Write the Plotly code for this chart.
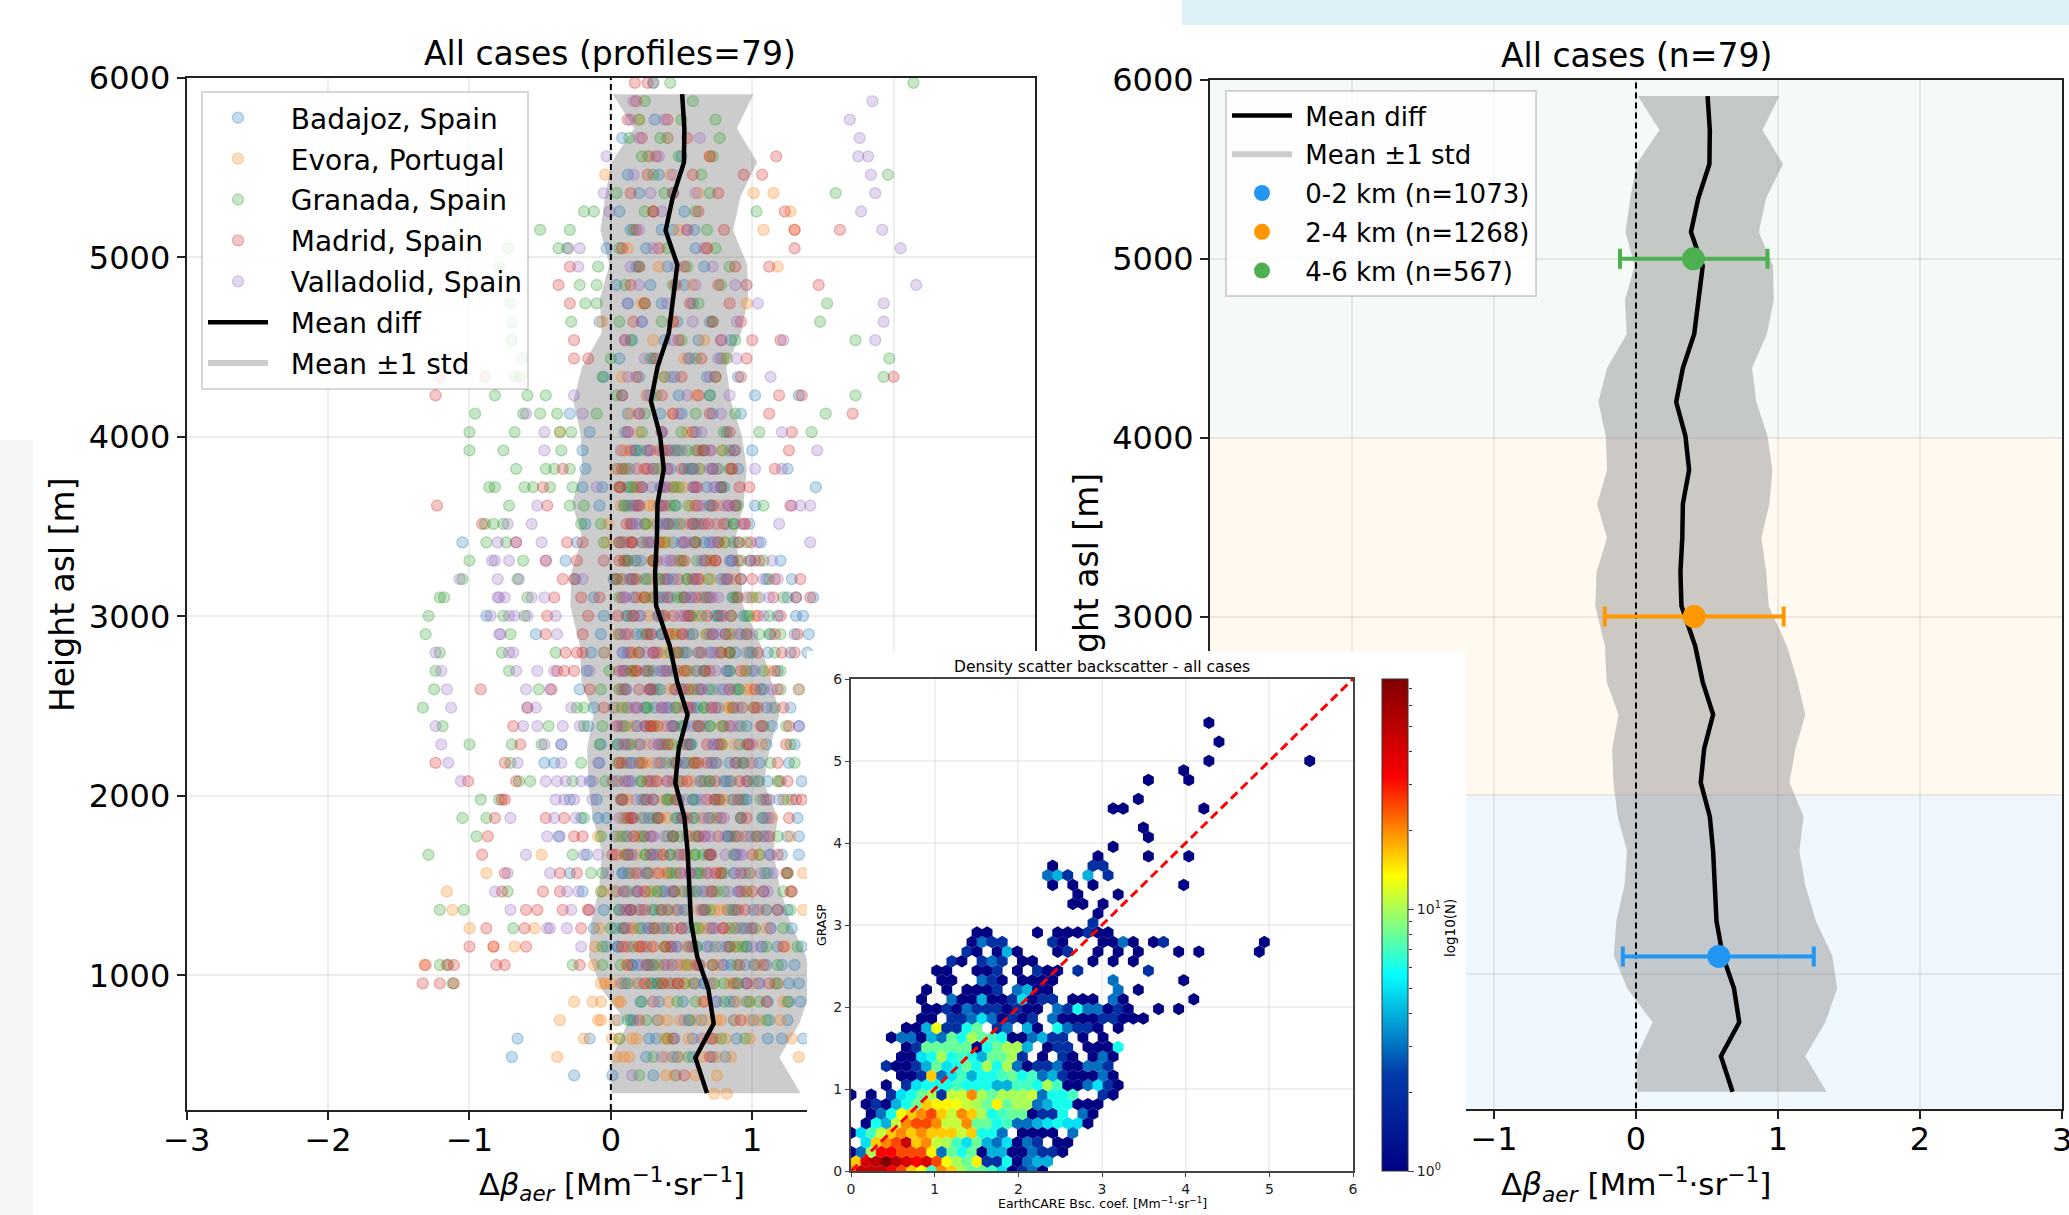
import math
import plotly.graph_objects as go

W, H = 2069, 1215

heights = [5910,5720,5530,5340,5150,4960,4770,4580,4390,4200,4010,3820,3630,3440,3250,3060,2835,2634,2452,2262,2072,1882,1690,1499,1298,1107,922,732,542,344]
mean_diff = [.504,.52,.517,.439,.387,.47,.44,.41,.33,.283,.348,.374,.33,.326,.313,.32,.417,.47,.543,.48,.456,.52,.543,.558,.567,.61,.69,.727,.598,.68]
std_lower = [.013,.165,.004,-.04,-.074,-.01,-.078,-.065,-.204,-.265,-.213,-.204,-.274,-.204,-.278,-.287,-.219,-.207,-.123,-.168,-.159,-.129,-.063,-.081,-.138,-.156,-.063,.117,.006,.006]
std_upper = [1.009,.891,1.035,.917,.865,.965,.97,.922,.817,.848,.926,.961,.939,.883,.917,.935,1.063,1.138,1.192,1.123,1.081,1.18,1.15,1.192,1.267,1.381,1.417,1.333,1.192,1.342]

row_bottom, row_step = 341, 102.4

stations = ["Badajoz, Spain","Evora, Portugal","Granada, Spain","Madrid, Spain","Valladolid, Spain"]
station_colors = ["31,119,180","255,127,14","44,160,44","214,39,40","148,103,189"]

# x offsets in hundredths, one list per height row, bottom row first
badajoz = [[],[-26,1,46,30],[-70,25,47,44,72,81,58],[-66,-15,27,32,45,58,89,111,121,136,70],[5,14,16,33,56,64,101,112,125,87],
[21,34,75,84,87,111,126,134,51,96],[20,96,126,133,33,66,105,28,118],[121,80,15,27,43,62,95,110,130],[107,135,5,25,42,60,82,96,118,-3],[53,113,-12,8,22,37,70,92,128],
[65,118,-5,14,31,47,83,101,125],[-20,65,71,4,18,38,55,90,108,128],[-29,9,111,25,41,60,78,95,125],[113,133,121,-17,12,30,48,69,88],[-37,108,133,3,20,44,62,83,99,125],
[-9,59,107,132,-21,15,33,47,75,92],[-29,7,22,40,58,74,94,112,128,-10],[111,135,-15,5,28,44,63,80,97,120],[-47,-40,-8,14,35,52,71,89,105,126],[-35,5,20,38,56,73,91,110,130],
[-16,8,25,43,61,79,96,114,133],[127,-12,2,24,40,58,76,93,110],[-22,91,133,6,27,45,62,80,108],[-17,9,30,47,66,84,100,118],[111,127,139,-14,12,33,51,70,88],
[-53,-7,113,18,36,55,72,92,130,140],[-88,-5,131,136,20,38,57,74,94,118],[125,131,-12,16,34,52,68,86,105,143],[-25,92,8,26,44,60,78,110,128],[-32,48,12,30,66,85,102,120],
[-105,-24,87,10,28,50,70,106],[-18,15,38,60,82,98],[102,-8,20,45,70,88],[-20,-6,145,12,35,58,80],[-18,5,30,55,72,90,125],[-20,18,42,65,84,100],[-15,10,36,60,82],
[-29,12,35,50,72,92],[133,102,8,28,48,70],[-5,20,45,68,90],[6,30,55,78],[15,38,62,85],[-8,22,47,70],[12,36,58],[4,28,52],[18,40,66],[-3,25,60],[59,14,36,44],[6,30,52],[20,44],[12,34],[27,50],[8,40],[31],[],[]]

evora = [[73,82],[39,75,45,60],[-38,4,13,39,65,75,85,133,9,48],[-19,1,15,18,38,40,55,74,81,98,128,6,66],[-36,-9,-7,34,40,49,60,67,75,88,98,105,120,3,78],
[-26,-13,-7,7,41,65,89,98,5,30,122],[-7,0,7,52,101,-4,35,72,84,118],[-132,-12,11,30,50,76,104],[-83,-68,-11,10,28,53,90,123],[-100,-54,-8,33,15,62,88,110],
[-112,-16,73,136,20,45,82,105],[-116,-6,25,50,95,128],[-88,125,136,16,40,76,99],[-49,10,36,70,105],[-9,127,22,56,94],[8,40,72,114],[12,46,80,125],[119,2,33,66],
[24,58,98],[78,107,18,41],[78,107,30,62],[11,48,84],[133,20,57,96],[16,52,112],[-4,38,76],[4,44,86],[16,55,102],[98,28,64],[8,48,88],[-5,32,70],[-3,40,80,12],[52,59,24],
[7,30,76],[18,46],[10,62],[34,70],[-36,20,54],[44,14],[25,60],[8,38],[52,80],[30,66],[-6,44],[96,22],[96,58],[118,34],[12,68],[108,130,48],[127,30],[101,115,62],[-4,42],[26,70],[40],[20],[],[]]

granada = [[],[20],[30,55],[6,78,40,95],[25,55,12,110],[22,47,98,105,60,80,125],[-112,29,44,59,73,89,116,10,36],[-121,-115,-27,-6,54,89,102,30,72,118],[-6,74,96,132,16,38,56,88,110],
[-69,0,84,102,122,20,40,62,96],[-121,-104,29,52,127,6,40,70,88,110],[-73,-7,33,45,12,60,80,96,122],[-14,46,109,-6,26,62,80,125],[-129,-27,42,59,87,10,25,70,105],[-95,-7,40,118,8,24,60,85,104],
[-105,-88,-19,92,10,30,50,70,108],[-92,-79,8,58,76,106,24,40,92,122],[-65,-57,-27,-4,85,101,22,48,70,118],[-71,-21,5,74,93,113,20,44,60,130],[-100,-70,-49,-8,78,127,14,36,56,96],
[-119,-44,-19,-6,92,124,10,30,50,70,108],[-133,-24,-19,86,116,8,26,46,66,102],[-125,-51,-7,106,8,30,52,72,90,120],[-124,-72,-1,96,120,67,14,38,54,84,108],[-121,-77,-39,84,98,20,42,62,78,116],
[-131,-71,96,25,105,6,46,68,84,120],[-129,-76,-61,12,34,56,76,98,112],[-121,-118,-59,87,67,122,6,30,50,100],[-105,-66,16,69,4,34,54,82,112],[-100,-62,71,12,30,50,92,108],
[-88,-74,-5,6,59,22,38,76,96],[-89,-83,-76,-21,-7,44,87,24,62],[-72,-29,-19,108,10,42,70,90],[-86,-82,-61,-55,-43,-27,16,44,78],[-67,-46,-40,-29,58,10,34,84],[-100,-76,-35,79,21,46,66],[-68,-100,-36,-28,105,142,22,50,80],
[-96,-62,-50,-38,152,-10,24,60,88],[-82,-59,-46,173,4,32,70],[-68,-64,193,-6,38,74],[-63,197,0,28,60,82],[-70,173,14,50,88],[-70,-28,148,6,36,72],[-71,-18,153,-10,24,62],[-22,-10,10,44,78],[-79,-9,20,54,84],[-73,-37,-31,6,40,74],[-50,-29,16,68],[-19,-12,103,24,60],[159,4,38,70],[196,30,64],[22,48,72],[13,77,35],[74,20,50],[24,58],[214,30,42]]

madrid = [[],[52],[70],[44,72],[20,92],[66,110],[-133,-121,-111,96,87,112,24,48],[-131,-116,-111,-81,-75,-22,12,38,25,108,60],[-100,-83,-60,20,39,122,8,58,84],[-88,-61,-21,79,10,30,50,100],
[-60,-52,-34,-16,14,36,66,90,118],[-77,-48,-36,9,127,24,44,72,100],[-75,-36,-24,18,78,34,56,92,124],[-91,1,12,28,52,70,100,118],[-87,-26,-20,16,28,44,66,88,112],[-82,-46,-33,14,33,78,54,96,126],
[-77,-75,68,131,135,8,30,46,90,110],[-101,-67,26,54,10,40,74,96,125],[-124,-75,6,22,46,68,88,118],[-64,10,34,54,76,98,124],[-69,4,28,44,62,84,106,126],[-59,-5,87,18,36,56,74,104,122],[-92,-42,-15,28,10,46,64,84,102,118],
[-38,-33,-26,6,26,52,18,40,70,92,116],[-32,-24,14,47,121,-20,30,64,84,104,130],[-46,-20,132,81,10,28,50,72,96,116],[-45,-16,52,68,120,85,16,36,78,104],[-40,-21,-8,24,131,141,8,40,60,90,115],[-34,-26,4,82,116,134,18,38,62,100],[-46,-24,99,105,10,30,52,74,90],
[-67,-31,-20,15,91,99,6,34,60,76],[-91,66,94,14,40,58,80],[-123,127,60,88,-45,18,36,72],[-48,6,59,98,22,38,78],[-34,8,86,116,26,50,72],[126,87,14,40,62],[128,12,36,58,84],[112,171,20,44,70],[-124,119,135,8,36,62],[-121,-89,200,92,18,50,74],[-26,-16,96,32,64],[-26,100,120,10,48,78],[16,44,72,92],[-29,24,56,84],[-37,147,14,46,76],
[-29,112,20,52,88],[130,68,8,34],[162,130,18,54,80],[123,30,62],[14,44,76],[107,94,26,58],[117,32,70],[22,54],[12,40],[18],[17,26]]

valladolid = [[],[15],[36],[64],[52],[30,74],[60,104],[47,79,22],[-21,12,46,70,100],[-45,-43,-31,12,26,74,50,94],[-71,-28,-15,9,40,87,22,64,110],
[-82,-23,-31,20,91,111,42,68],[-73,-43,-2,27,88,12,52,70,106],[-60,-19,-9,29,71,91,14,50,112],[-45,-36,67,81,96,12,30,54,110],[-71,-40,-25,6,112,24,50,66,92],[-39,-33,-26,-13,26,87,8,48,64,108],
[-106,-46,-38,-32,-21,-13,12,64,30,84,104],[-115,-66,-35,-9,33,14,52,72,94],[-120,-47,-35,8,30,54,76,100],[-124,-62,-52,-34,-22,19,133,6,40,66,90],[-113,-59,-53,-28,52,71,16,36,90,114],[-116,-60,-43,64,10,30,50,84,106],
[-120,-67,-52,-40,-15,82,8,36,60,102],[-124,-72,-69,8,32,54,74,96],[-79,-78,-38,58,12,36,76,100],[-85,-72,-68,-59,-39,14,34,54,80,108],[-80,-79,-75,-56,-47,56,112,10,32,72,96],[-107,-80,-65,-20,14,40,60,84,118],[-84,-82,-72,-46,-5,84,114,18,42,64],
[-80,-49,-67,104,141,8,30,52,72],[-73,-56,18,74,119,36,56,92],[-52,14,128,134,141,36,62,80],[20,73,-10,40,60],[18,75,121,102,40,58],[-47,7,26,146,50,70],[-47,121,12,36,64],[-60,-20,20,48,78],[-26,26,54,84],[113,12,42,70],[89,24,56,76],[122,187,10,44,78],[193,89,22,58],[104,193,12,40],[216,96,20,60,88],
[-23,14,46,72],[-22,205,-30,30,66],[192,20,54],[177,-1,36],[-5,187,28,60],[184,16,44],[182,175,-3,34],[176,63,20],[169,14,38],[185,16],[30]]

# further crowded points in the dense core, row by row; each row goes round the five sites in order
core_first_row = 6
core_rows = [
[33,17,52,41,8,66,25,90,37,70,12,58,80,47,96],[19,44,7,63,29,85,52,34,72,101,15,56,26,91,40],[5,38,61,22,78,47,12,93,30,55,68,20,84,43,106],
[27,50,9,72,36,88,16,59,44,99,3,66,31,80,113],[14,41,67,24,53,6,77,35,95,48,20,62,86,11,104],[36,2,57,19,83,45,70,28,92,10,52,33,75,108,61],
[8,31,64,49,21,87,39,13,74,56,98,26,43,68,115],[42,18,60,4,81,33,54,24,71,93,15,47,65,37,89],[23,55,11,76,38,90,6,49,62,29,83,17,44,103,70],
[-3,35,58,16,69,27,92,46,12,80,34,64,22,51,110],[30,7,48,73,18,60,38,86,25,53,96,9,42,77,119],[13,44,66,32,1,82,57,21,91,40,70,28,105,50,15],
[39,20,55,8,75,47,30,94,62,16,84,36,11,59,100],[-7,26,50,68,34,12,79,43,97,21,57,88,5,40,72],[18,37,63,24,86,52,9,70,33,107,45,15,80,28,58],
[31,4,46,71,19,61,93,25,54,38,12,83,66,101,42],[11,42,59,28,77,35,6,88,50,20,69,99,33,55,114],[24,48,15,66,39,82,56,27,10,74,44,95,61,18,35],
[-5,34,53,20,72,9,45,84,30,62,100,16,48,78,25],[29,13,58,41,90,22,67,36,51,7,81,43,112,26,70],[16,38,64,5,49,76,27,96,55,33,11,60,85,44,21],
[37,22,47,70,10,57,31,89,18,65,42,103,24,52,76],[2,28,54,15,80,40,63,24,92,47,13,71,35,58,108],[21,45,9,67,33,86,50,17,74,39,98,29,61,6,43],
[14,35,60,26,73,44,8,81,52,23,66,37,90,15,56],[33,-2,49,69,19,58,30,87,11,64,41,76,25,95,47],[9,27,55,38,84,16,62,46,20,72,34,57,12,83,65],
[22,44,6,61,29,78,51,14,91,36,68,18,48,7,74],[13,32,57,24,70,42,3,63,85,30,52,19,76,40,59],[26,8,48,66,35,17,79,54,28,45,88,10,60,37,71],
]

error_labels = ["0-2 km (n=1073)","2-4 km (n=1268)","4-6 km (n=567)"]
error_heights = [1100,3000,5000]
error_means = [.583,.41,.404]
error_lows = [-.093,-.22,-.113]
error_highs = [1.252,1.04,.926]
error_colors = ["#2196F3","#FF9800","#4CAF50"]
band_edges = [0,2000,4000,6000]
band_colors = ["rgba(33,150,243,0.07)","rgba(255,152,0,0.06)","rgba(76,175,80,0.06)"]

hex_step = .1205
hex_row_step = .1163
# (row, first column, counts); 0 = empty cell
hex_rows = [
(0,0,[20,45,45,45,32,25,16,13,7,20,16,10,8,8,7,5,1,2,3,1]),
(1,0,[16,45,50,76,50,40,32,40,25,13,10,8,14,2,2,6,1,3,4,4]),
(2,0,[1,3,10,32,32,25,25,25,14,3,8,6,8,1,4,4,1,1,3,2,2,1]),
(3,0,[0,5,16,20,25,45,16,20,11,10,7,5,8,4,3,5,1,3,2,0,1,1]),
(4,0,[1,5,7,11,16,20,16,20,16,16,16,11,16,6,6,3,0,1,1,1,1,0,3]),
(5,0,[0,1,6,4,11,20,25,25,20,11,11,20,8,8,6,7,3,3,4,5,6,5,5,1]),
(6,0,[0,0,1,3,6,13,16,20,25,16,11,20,16,10,6,7,8,8,1,2,2,6,0,3,1]),
(7,0,[0,1,2,1,4,6,8,16,14,14,13,11,10,8,14,8,10,10,3,4,6,6,1,1,1]),
(8,0,[1,0,1,0,2,5,6,8,10,2,11,11,20,10,8,10,10,10,11,3,6,6,7,0,0,2,1]),
(9,0,[0,0,0,1,0,2,5,6,6,6,7,6,6,6,4,4,7,7,6,10,7,1,1,3,5,2,1]),
(10,0,[0,0,0,0,0,1,1,2,16,3,5,7,4,6,6,7,8,6,7,3,4,2,1,1,1,3,1]),
(11,0,[0,0,0,2,1,1,2,4,8,5,6,8,6,10,6,10,3,1,2,2,3,1,1,3,3,2]),
(12,0,[0,0,0,0,0,1,1,5,6,10,6,7,6,4,8,8,10,2,0,1,0,2,1,0,1,3,1]),
(13,0,[0,0,0,0,0,1,2,8,8,8,8,8,1,6,8,10,10,4,0,1,2,2,0,1,1,1,6]),
(14,0,[0,0,0,0,1,3,3,1,4,3,8,6,10,8,7,6,1,1,3,4,2,2,0,1,0,1]),
(15,0,[0,0,0,0,0,1,1,4,13,2,2,6,8,0,2,3,0,4,1,0,6,3,2,2,1,0,1]),
(16,7,[1,1,0,2,2,3,5,3,1,2,1,2,0,3,1,1,1,1,2,2,1,1,1]),
(17,7,[1,1,2,1,3,2,2,2,1,2,1,1,0,3,2,6,3,3,1,2,1,0,0,1,0,1]),
(18,7,[1,0,0,3,1,1,4,1,1,2,5,1,2,2,0,1,1,1,0,3,1,0,0,0,0,0,0,1]),
(19,7,[1,0,1,0,1,1,1,2,0,3,4,1,1,0,0,0,0,0,0,3,0,1]),
(20,9,[1,1,0,0,3,2,1,0,1,1,1,1,0,0,0,0,0,3,0,0,0,0,0,0,1]),
(21,8,[1,1,0,0,1,1,2,0,1,0,2,1,1,0,2,0,0,0,0,0,0,2]),
(22,10,[2,1,0,2,3,2,0,1,1,0,0,0,0,0,1,0,1,0,1]),
(23,11,[2,1,0,1,4,1,0,0,0,1,2,0,0,1,0,1,0,1,0,0,0,1,0,1,0,0,0,0,0,1]),
(24,12,[1,3,2,2,0,0,0,0,2,1,0,0,0,1,1,3,1,0,1,2,0,0,0,0,0,0,0,0,0,1]),
(25,12,[1,1,0,0,0,0,1,0,1,1,1,2,1,1]),
(26,24,[2]),(27,24,[1]),(28,22,[1,1,0,1]),(29,22,[1,0,0,0,1]),
(30,20,[1,0,1,0,1,0,0,0,0,0,0,0,0,1]),(31,19,[3,4,2,0,4,0,2]),(32,20,[1,0,0,0,2,2]),
(33,24,[1,0,0,0,0,1,0,0,0,1]),(34,26,[1]),(35,29,[1]),(36,29,[1]),(38,26,[1,1,0,0,0,0,0,0,0,1]),
(39,28,[1]),(41,29,[1,0,0,0,1]),(42,33,[1]),(43,35,[1,0,0,0,0,0,0,0,0,0,1]),(45,36,[1]),(47,35,[1]),
]
hex_max = 76
colorbar_major = [1,10]
colorbar_minor = [2,3,4,5,6,7,8,9,20,30,40,50,60,70]
one_to_one = [0,6]


def px_x(a, b):
    return [a / W, b / W]


def px_y(top, bot):
    return [1 - bot / H, 1 - top / H]


def pad(text, count=1):
    return "\u00a0" * count + text


fig = go.Figure()
band_x = std_lower + std_upper[::-1]
band_y = heights + heights[::-1]
GREY = "rgba(128,128,128,0.4)"

# left panel
fig.add_trace(go.Scatter(x=band_x, y=band_y, fill="toself", fillcolor=GREY, mode="none", name=pad("Mean ±1 std", 2),
                         legendgroup="g7", legendrank=7, legend="legend", xaxis="x", yaxis="y"))
for s, (name, rows, rgb) in enumerate(zip(stations, [badajoz, evora, granada, madrid, valladolid], station_colors)):
    xs, ys = [], []
    for k, row in enumerate(rows):
        for v in row:
            xs.append(v / 100)
            ys.append(row_bottom + k * row_step)
    for c, row in enumerate(core_rows):
        for v in row[s::5]:
            xs.append(v / 100)
            ys.append(row_bottom + (core_first_row + c) * row_step)
    fig.add_trace(go.Scatter(x=xs, y=ys, mode="markers", name=pad(name, 2), legendrank=1, legendgroup=name,
                             marker=dict(size=11, color=f"rgba({rgb},0.26)", line=dict(width=1.3, color=f"rgba({rgb},0.32)")),
                             xaxis="x", yaxis="y", legend="legend"))
fig.add_trace(go.Scatter(x=[0, 0], y=[250, 6000], mode="lines", line=dict(color="black", width=2, dash="6px,4px"),
                         showlegend=False, xaxis="x", yaxis="y"))
fig.add_trace(go.Scatter(x=mean_diff, y=heights, mode="lines", name=pad("Mean diff", 2), legendrank=6, legendgroup="g6",
                         line=dict(color="black", width=4.5), xaxis="x", yaxis="y", legend="legend"))

# right panel
fig.add_trace(go.Scatter(x=band_x, y=band_y, fill="toself", fillcolor=GREY, mode="none", name=pad("Mean ±1 std"),
                         legendrank=2, legendgroup="r2", legend="legend2", xaxis="x2", yaxis="y2"))
fig.add_trace(go.Scatter(x=[0, 0], y=[250, 6000], mode="lines", line=dict(color="black", width=2, dash="6px,4px"),
                         showlegend=False, xaxis="x2", yaxis="y2"))
fig.add_trace(go.Scatter(x=mean_diff, y=heights, mode="lines", name=pad("Mean diff"), legendrank=1, legendgroup="r1",
                         line=dict(color="black", width=4.5), xaxis="x2", yaxis="y2", legend="legend2"))
for i in range(3):
    fig.add_trace(go.Scatter(
        x=[error_means[i]], y=[error_heights[i]], mode="markers", name=pad(error_labels[i]), legendrank=3 + i, legendgroup=error_labels[i],
        marker=dict(size=23, color=error_colors[i]),
        error_x=dict(type="data", symmetric=False, array=[error_highs[i] - error_means[i]],
                     arrayminus=[error_means[i] - error_lows[i]], color=error_colors[i], thickness=4, width=10),
        xaxis="x2", yaxis="y2", legend="legend2"))

# helper subplot carrying the clipped right y label, white panel, inset
fig.add_trace(go.Scatter(x=[0], y=[0], mode="markers", marker=dict(opacity=0), showlegend=False, xaxis="x3", yaxis="y3"))
fig.add_trace(go.Scatter(x=[0, 1, 1, 0, 0], y=[0, 0, 1, 1, 0], mode="lines", fill="toself", fillcolor="white",
                         line=dict(width=0, color="white"), showlegend=False, xaxis="x4", yaxis="y4"))

hx, hy, hn = [], [], []
for k, start, counts in hex_rows:
    for j, n in enumerate(counts):
        if n > 0:
            hx.append((start + j + 0.5 * (k % 2)) * hex_step)
            hy.append(k * hex_row_step)
            hn.append(n)
log_max = math.log10(hex_max)
fig.add_trace(go.Scatter(
    x=hx, y=hy, mode="markers", showlegend=False, xaxis="x5", yaxis="y5",
    marker=dict(symbol="hexagon", size=12.5, color=[math.log10(n) for n in hn], colorscale="Jet", cmin=0, cmax=log_max,
                line=dict(width=0),
                colorbar=dict(x=1382 / W, xanchor="left", y=1 - 1171 / H, yanchor="bottom", len=492 / H, lenmode="fraction",
                              thickness=25.5, xpad=0, ypad=0, outlinewidth=1, outlinecolor="#333",
                              tickmode="array", tickvals=[math.log10(v) for v in colorbar_major],
                              ticktext=["10<sup>0</sup>", "10<sup>1</sup>"], ticks="outside", ticklen=6,
                              tickfont=dict(size=14, color="#222", family="DejaVu Sans")))))
fig.add_trace(go.Scatter(x=one_to_one, y=one_to_one, mode="lines", line=dict(color="red", width=3, dash="9px,5px"),
                         showlegend=False, xaxis="x5", yaxis="y5"))
# log axis along the colour bar for its minor ticks
fig.add_trace(go.Scatter(x=[0], y=[1], mode="markers", marker=dict(opacity=0), showlegend=False, xaxis="x6", yaxis="y6"))

FONT = "DejaVu Sans"
big_axis = dict(showline=True, linecolor="#222", linewidth=2, mirror=True, ticks="outside", ticklen=8, tickwidth=2, tickcolor="#222",
                showgrid=True, gridcolor="rgba(0,0,0,0.07)", gridwidth=2, zeroline=False,
                tickfont=dict(size=32, color="black", family=FONT))
inset_axis = dict(showline=True, linecolor="#444", linewidth=2, mirror=True, ticks="outside", ticklen=4, tickwidth=1, tickcolor="#444",
                  showgrid=True, gridcolor="rgba(0,0,0,0.06)", gridwidth=1.5, zeroline=False, range=[0, 6], dtick=1,
                  tickfont=dict(size=14, color="#222", family=FONT))
hidden = dict(visible=False, range=[0, 1], fixedrange=True)
xticks = [-3, -2, -1, 0, 1, 2, 3]
yticks = [1000, 2000, 3000, 4000, 5000, 6000]
xlabel = "Δ<i>β</i><sub><i>aer</i></sub> [Mm<sup>−1</sup>·sr<sup>−1</sup>]"


def note(text, x, y, size, angle=0):
    return dict(text=text, xref="paper", yref="paper", x=x / W, y=1 - y / H, xanchor="center", yanchor="middle",
                showarrow=False, textangle=angle, font=dict(size=size, color="black", family=FONT))


shapes = [
    dict(type="rect", xref="paper", yref="paper", x0=0, x1=33 / W, y0=0, y1=1 - 440 / H, fillcolor="#f5f5f3", line_width=0, layer="below"),
    dict(type="rect", xref="paper", yref="paper", x0=1182 / W, x1=1, y0=1 - 25 / H, y1=1, fillcolor="#dff1f8", line_width=0, layer="below"),
]
for i in range(3):
    shapes.append(dict(type="rect", xref="x2", yref="y2", x0=-3, x1=3, y0=band_edges[i], y1=band_edges[i + 1],
                       fillcolor=band_colors[i], line_width=0, layer="below"))

legend_box = dict(bgcolor="rgba(255,255,255,0.8)", bordercolor="rgba(0,0,0,0.16)", borderwidth=2,
                  xanchor="left", yanchor="top", xref="paper", yref="paper", traceorder="grouped")

fig.update_layout(
    width=W, height=H, margin=dict(l=0, r=0, t=0, b=0, autoexpand=False), paper_bgcolor="white", plot_bgcolor="white",
    font=dict(family=FONT, color="black"),
    xaxis=dict(big_axis, domain=px_x(186.7, 1035), range=[-3, 3], tickvals=xticks, anchor="y", ticklabelstandoff=-7),
    yaxis=dict(big_axis, domain=px_y(78, 1110), range=[250, 6000], tickvals=yticks, anchor="x"),
    xaxis2=dict(big_axis, domain=px_x(1210, 2062), range=[-3, 3], tickvals=xticks, anchor="y2", ticklabelstandoff=-7),
    yaxis2=dict(big_axis, domain=px_y(80, 1108.5), range=[250, 6000], tickvals=yticks, anchor="x2"),
    xaxis3=dict(hidden, domain=px_x(1106, 1108), anchor="y3"),
    yaxis3=dict(domain=px_y(395, 795), range=[0, 1], anchor="x3", tickmode="array", tickvals=[0.5], ticktext=["Height asl [m]"],
                tickangle=-90, ticks="", showgrid=False, zeroline=False, showline=False, fixedrange=True,
                tickfont=dict(size=33, color="black", family=FONT)),
    xaxis4=dict(hidden, domain=px_x(807, 1466), anchor="y4"),
    yaxis4=dict(hidden, domain=px_y(651, 1215), anchor="x4"),
    xaxis5=dict(inset_axis, domain=px_x(851, 1353), anchor="y5"),
    yaxis5=dict(inset_axis, domain=px_y(679, 1171), anchor="x5"),
    xaxis6=dict(hidden, domain=px_x(1407, 1408), anchor="y6"),
    yaxis6=dict(domain=px_y(679, 1171), type="log", range=[0, log_max], anchor="x6", side="right", tickmode="array", tickvals=colorbar_minor,
                showticklabels=False, ticks="outside", ticklen=3, tickcolor="#333", showgrid=False, zeroline=False, showline=False, fixedrange=True),
    legend=dict(legend_box, x=201 / W, y=1 - 91 / H, font=dict(size=28, color="black", family=FONT), itemwidth=60, tracegroupgap=1.5),
    legend2=dict(legend_box, x=1225 / W, y=1 - 90 / H, font=dict(size=26, color="black", family=FONT), itemwidth=60, tracegroupgap=2),
    shapes=shapes,
    annotations=[
        note("All cases (profiles=79)", 610, 53, 33),
        note("All cases (n=79)", 1636, 55, 33),
        note("Height asl [m]", 62, 595, 33, -90),
        note(xlabel, 612, 1184, 30.5),
        note(xlabel, 1636, 1184, 31),
        note("Density scatter backscatter - all cases", 1102, 667, 15.5),
        note("GRASP", 821, 925, 12.5, -90),
        note("EarthCARE Bsc. coef. [Mm<sup>−1</sup>·sr<sup>−1</sup>]", 1102, 1203, 12.5),
        note("log10(N)", 1450, 928, 13.5, -90),
        note("3", 2062, 1140, 32),
    ],
)

fig.write_html("out.html", config={"displayModeBar": False}, post_script="document.body.style.margin='0';")
